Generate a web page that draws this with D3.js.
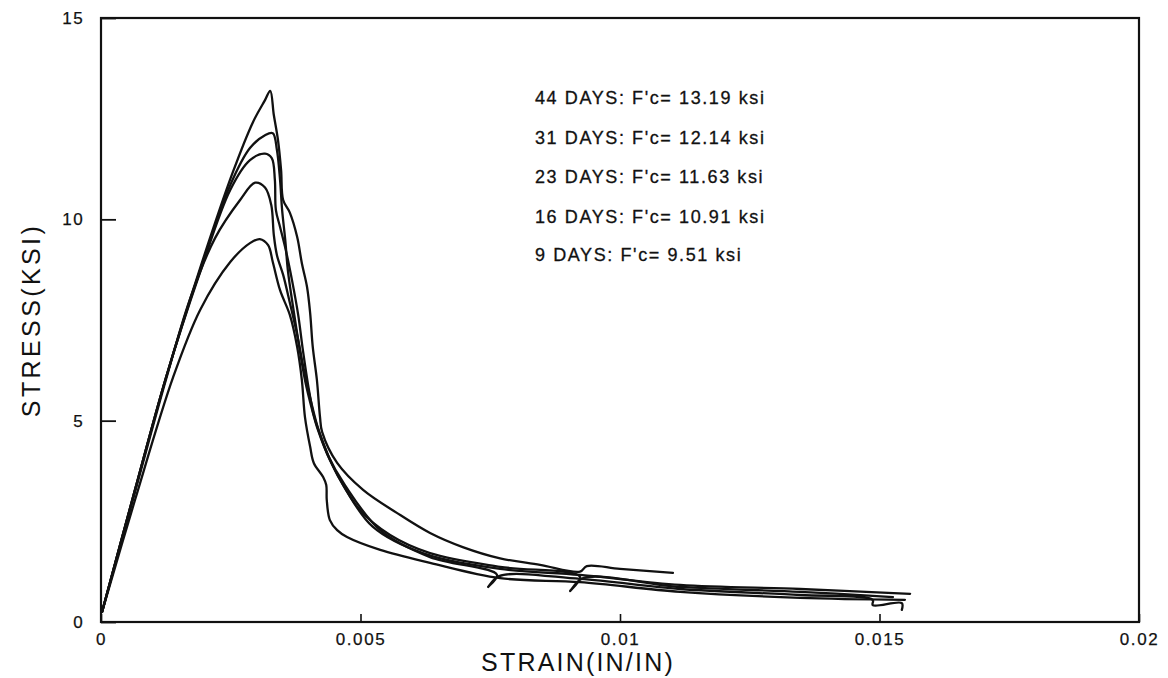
<!DOCTYPE html>
<html>
<head>
<meta charset="utf-8">
<script src="https://cdn.jsdelivr.net/npm/d3@7"></script>
<style>
  html, body { margin: 0; padding: 0; background: #fff; }
  svg { display: block; }
  text { font-family: "Liberation Sans", Arial, Helvetica, sans-serif; fill: #111; }
</style>
</head>
<body>
<svg id="chart" width="1168" height="678"></svg>
<script>
// ---- Data (strain in/in, stress ksi) ----
const seriesLabels = [
  "44 DAYS: F'c= 13.19 ksi",
  "31 DAYS: F'c= 12.14 ksi",
  "23 DAYS: F'c= 11.63 ksi",
  "16 DAYS: F'c= 10.91 ksi",
  "9 DAYS: F'c= 9.51 ksi"
];

const days44 = [
  [0.00002,0.25],[0.000655,3.28],[0.00125,6.06],[0.00191,8.79],[0.00254,11.17],
  [0.00293,12.42],[0.00316,12.96],[0.00326,13.19],[0.00333,12.59],[0.00341,11.97],
  [0.00347,11.22],[0.00351,10.48],[0.00364,10.16],[0.00378,9.56],[0.00387,8.91],
  [0.00397,8.32],[0.00403,7.67],[0.00408,6.83],[0.00416,6.01],[0.00422,5.09],
  [0.00426,4.72],[0.00455,3.95],[0.00505,3.28],[0.00570,2.71],[0.00634,2.21],
  [0.00697,1.86],[0.00769,1.58],[0.00846,1.42],[0.00923,1.25],[0.00936,1.39],
  [0.0100,1.32],[0.01102,1.22]
];
const days31 = [
  [0.00002,0.25],[0.000655,3.28],[0.00125,6.06],[0.00191,8.74],[0.00249,10.85],
  [0.00287,11.77],[0.00316,12.09],[0.00331,12.14],[0.00339,11.72],[0.00345,10.98],
  [0.00349,10.23],[0.00355,9.49],[0.00360,8.74],[0.00368,8.00],[0.00380,7.00],
  [0.00393,6.01],[0.00407,5.26],[0.00418,4.77],[0.00441,4.02],[0.00472,3.28],
  [0.00524,2.36],[0.00620,1.71],[0.00769,1.32],[0.00923,1.17],[0.01116,0.92],
  [0.01347,0.82],[0.01559,0.70]
];
const days23 = [
  [0.00002,0.25],[0.000655,3.28],[0.00125,6.06],[0.00191,8.69],[0.00249,10.73],
  [0.00287,11.47],[0.00316,11.63],[0.00329,11.52],[0.00335,10.98],[0.00337,10.23],
  [0.00345,9.81],[0.00356,9.24],[0.00368,8.49],[0.00380,7.62],[0.00389,6.75],
  [0.00399,5.89],[0.00410,5.14],[0.00426,4.52],[0.00451,3.77],[0.00499,2.78],
  [0.00557,2.16],[0.00634,1.71],[0.00769,1.37],[0.00923,1.12],[0.00904,0.77],
  [0.00929,1.09],[0.01116,0.87],[0.01347,0.75],[0.01526,0.62]
];
const days16 = [
  [0.00002,0.25],[0.000655,3.23],[0.00125,6.01],[0.00171,8.00],[0.00220,9.54],
  [0.00268,10.48],[0.00297,10.91],[0.00316,10.79],[0.00328,10.36],[0.00333,9.61],
  [0.00339,9.11],[0.00351,8.62],[0.00364,7.92],[0.00378,7.13],[0.00391,6.26],
  [0.00405,5.46],[0.00418,4.82],[0.00437,4.15],[0.00470,3.40],[0.00538,2.28],
  [0.00634,1.61],[0.00763,1.17],[0.00746,0.87],[0.00767,1.14],[0.00923,1.07],
  [0.01116,0.82],[0.01347,0.67],[0.01487,0.55],[0.01487,0.42],[0.01543,0.47],
  [0.01543,0.30]
];
const days9 = [
  [0.00002,0.25],[0.000655,3.03],[0.00139,6.08],[0.00191,7.75],[0.00249,8.94],
  [0.00287,9.41],[0.00306,9.51],[0.00322,9.36],[0.00331,8.94],[0.00345,8.24],
  [0.00364,7.62],[0.00378,6.83],[0.00387,6.01],[0.00393,5.09],[0.00403,4.35],
  [0.00410,3.95],[0.00428,3.60],[0.00434,3.40],[0.00435,3.03],[0.00441,2.53],
  [0.00455,2.28],[0.00474,2.11],[0.00538,1.79],[0.00634,1.47],[0.00769,1.09],
  [0.00923,0.99],[0.01116,0.75],[0.01347,0.60],[0.01549,0.55]
];

const xTicks = [0, 0.005, 0.01, 0.015, 0.02];
const xTickLabels = ["0", "0.005", "0.01", "0.015", "0.02"];
const yTicks = [0, 5, 10, 15];
const yTickLabels = ["0", "5", "10", "15"];
const xTitle = "STRAIN(IN/IN)";
const yTitle = "STRESS(KSI)";

// ---- Layout ----
const svg = d3.select("#chart");
const plotL = 101, plotR = 1139, plotT = 18, plotB = 622;

const x = d3.scaleLinear().domain([0, 0.02]).range([plotL, plotR]);
const y = d3.scaleLinear().domain([0, 15]).range([plotB, plotT]);

// frame
svg.append("rect")
  .attr("x", plotL).attr("y", plotT)
  .attr("width", plotR - plotL).attr("height", plotB - plotT)
  .attr("fill", "none").attr("stroke", "#111").attr("stroke-width", 2.2);

// axes
const xAxis = d3.axisBottom(x)
  .tickValues(xTicks)
  .tickFormat((d, i) => xTickLabels[i])
  .tickSizeInner(-8).tickSizeOuter(0).tickPadding(11);
const gx = svg.append("g").attr("transform", `translate(0,${plotB})`).call(xAxis);
gx.select(".domain").remove();
gx.selectAll(".tick line").attr("stroke", "#111").attr("stroke-width", 1.6);
gx.selectAll(".tick text")
  .attr("font-size", 17).attr("letter-spacing", "1.6px")
  .attr("font-family", "'Liberation Sans', Arial, sans-serif").attr("fill", "#111")
  .attr("stroke", "#111").attr("stroke-width", 0.25);

const yAxis = d3.axisLeft(y)
  .tickValues(yTicks)
  .tickFormat((d, i) => yTickLabels[i])
  .tickSizeInner(-15).tickSizeOuter(0).tickPadding(17);
const gy = svg.append("g").attr("transform", `translate(${plotL},0)`).call(yAxis);
gy.select(".domain").remove();
gy.selectAll(".tick line").attr("stroke", "#111").attr("stroke-width", 1.8);
gy.selectAll(".tick text")
  .attr("font-size", 17).attr("letter-spacing", "1.4px")
  .attr("font-family", "'Liberation Sans', Arial, sans-serif").attr("fill", "#111")
  .attr("stroke", "#111").attr("stroke-width", 0.25);

// axis titles
svg.append("text")
  .attr("x", 578).attr("y", 671)
  .attr("text-anchor", "middle")
  .attr("font-size", 25).attr("letter-spacing", "2.2px")
  .text(xTitle);

svg.append("text")
  .attr("transform", "translate(40,320) rotate(-90)")
  .attr("text-anchor", "middle")
  .attr("font-size", 25).attr("letter-spacing", "3.4px")
  .text(yTitle);

// curves
const line = d3.line()
  .x(d => x(d[0]))
  .y(d => y(d[1]))
  .curve(d3.curveCatmullRom.alpha(0.5));

const allSeries = [days44, days31, days23, days16, days9];
svg.append("g").selectAll("path")
  .data(allSeries)
  .join("path")
  .attr("d", line)
  .attr("fill", "none")
  .attr("stroke", "#111")
  .attr("stroke-width", 2.3)
  .attr("stroke-linejoin", "round")
  .attr("stroke-linecap", "round");

// legend text
const legendY = [98, 138, 177, 216.5, 255];
svg.append("g").selectAll("text")
  .data(seriesLabels)
  .join("text")
  .attr("x", 535)
  .attr("y", (d, i) => legendY[i])
  .attr("dy", "0.36em")
  .attr("font-size", 18)
  .attr("letter-spacing", "1.6px")
  .attr("stroke", "#111").attr("stroke-width", 0.3)
  .text(d => d);
</script>
</body>
</html>
